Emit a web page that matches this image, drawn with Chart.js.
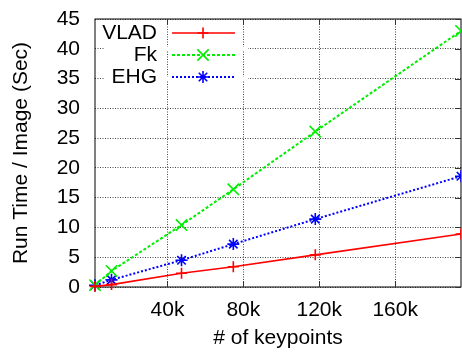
<!DOCTYPE html>
<html>
<head>
<meta charset="utf-8">
<script src="https://cdn.jsdelivr.net/npm/chart.js@4.4.0/dist/chart.umd.min.js"></script>
<style>
  html, body { margin: 0; padding: 0; background: #fff; }
  canvas { display: block; }
</style>
</head>
<body>
<canvas id="runtime" width="462" height="352"></canvas>
<script>
// ── Data ──────────────────────────────────────────────────────
const keypoints = [1800, 10500, 47400, 74700, 117900, 194700];
const vladTime  = [0.1, 0.4, 2.3, 3.4, 5.4, 8.9];
const fkTime    = [0.3, 2.7, 10.4, 16.4, 26.1, 43.0];
const ehgTime   = [0.3, 1.2, 4.5, 7.2, 11.4, 18.6];
const xTicks    = [40000, 80000, 120000, 160000];
const yTicks    = [0, 5, 10, 15, 20, 25, 30, 35, 40, 45];

const FONT = 'Liberation Sans, Arial, Helvetica, sans-serif';
const pts = ys => ys.map((y, i) => ({ x: keypoints[i], y }));

// no extra room for overflowing tick labels, the layout padding handles it
function noLabelPadding(s) {
  s.paddingTop = 0; s.paddingBottom = 0; s.paddingLeft = 0; s.paddingRight = 0;
}

// ── Plot frame + small inner tick marks (gnuplot style) ───────
const framePlugin = {
  id: 'frame',
  beforeDatasetsDraw(chart) {
    const { ctx, chartArea: a, scales } = chart;
    ctx.save();
    // horizontal grid lines stop where the key sits
    ctx.fillStyle = '#fff';
    yTicks.forEach(v => {
      const py = scales.y.getPixelForValue(v);
      if (py > a.top + 10 && py < a.top + 64) ctx.fillRect(a.left + 10, py - 2, 143, 4);
    });
    ctx.strokeStyle = '#000';
    ctx.lineWidth = 1;
    ctx.setLineDash([]);
    ctx.strokeRect(a.left, a.top, a.right - a.left, a.bottom - a.top);
    ctx.strokeStyle = '#333';
    ctx.beginPath();
    yTicks.forEach(v => {
      const py = Math.round(scales.y.getPixelForValue(v)) + 0.5;
      ctx.moveTo(a.right, py); ctx.lineTo(a.right - 6, py);
    });
    xTicks.forEach(v => {
      const px = Math.round(scales.x.getPixelForValue(v)) + 0.5;
      ctx.moveTo(px, a.top); ctx.lineTo(px, a.top + 6);
      ctx.moveTo(px, a.bottom); ctx.lineTo(px, a.bottom - 6);
    });
    ctx.stroke();
    ctx.restore();
  }
};

// ── Key: label right-aligned, then line sample with marker ───
const keyPlugin = {
  id: 'key',
  afterDraw(chart) {
    const { ctx, chartArea: a } = chart;
    ctx.save();
    ctx.font = '21px ' + FONT;
    ctx.textAlign = 'right';
    ctx.textBaseline = 'middle';
    chart.data.datasets.forEach((ds, i) => {
      const cy = a.top + 14 + i * 22;
      ctx.fillStyle = '#000';
      ctx.fillText(ds.label, a.left + 62, cy);
      ctx.strokeStyle = ds.borderColor;
      ctx.lineWidth = ds.borderWidth;
      ctx.setLineDash(ds.borderDash || []);
      ctx.beginPath();
      ctx.moveTo(a.left + 77, cy);
      ctx.lineTo(a.left + 140, cy);
      ctx.stroke();
      ctx.setLineDash([]);
      ctx.lineWidth = ds.pointBorderWidth;
      Chart.helpers.drawPoint(ctx, { pointStyle: ds.pointStyle, radius: ds.pointRadius, borderWidth: ds.pointBorderWidth, rotation: 0 }, a.left + 108, cy);
    });
    ctx.restore();
  }
};

new Chart(document.getElementById('runtime'), {
  type: 'line',
  data: {
    datasets: [
      {
        label: 'VLAD', data: pts(vladTime),
        borderColor: '#ff0000', backgroundColor: '#ff0000', borderWidth: 1.6,
        pointStyle: 'cross', pointRadius: 5.5, pointBorderWidth: 1.6
      },
      {
        label: 'Fk', data: pts(fkTime),
        borderColor: '#00ee00', backgroundColor: '#00ee00', borderWidth: 2, borderDash: [3, 2],
        pointStyle: 'crossRot', pointRadius: 8, pointBorderWidth: 1.6
      },
      {
        label: 'EHG', data: pts(ehgTime),
        borderColor: '#0000ff', backgroundColor: '#0000ff', borderWidth: 2, borderDash: [2, 2],
        pointStyle: 'star', pointRadius: 6, pointBorderWidth: 1.6
      }
    ]
  },
  options: {
    responsive: false,
    animation: false,
    layout: { autoPadding: false, padding: { top: 19, right: 1, left: 0, bottom: 0 } },
    plugins: { legend: { display: false }, tooltip: { enabled: false } },
    elements: { line: { tension: 0 } },
    datasets: { line: { clip: { left: false, top: false, right: 0, bottom: false } } },
    scales: {
      x: {
        type: 'linear',
        min: keypoints[0], max: keypoints[keypoints.length - 1],
        afterBuildTicks: s => { s.ticks = xTicks.map(v => ({ value: v })); },
        afterFit: s => { s.height = 65; noLabelPadding(s); },
        grid: { color: '#444', lineWidth: 1, drawTicks: false },
        border: { display: false, dash: [1, 1.5] },
        ticks: {
          color: '#000', padding: 11, maxRotation: 0,
          font: { family: FONT, size: 21 },
          callback: v => (v / 1000) + 'k'
        },
        title: {
          display: true, text: '# of keypoints', color: '#000',
          font: { family: FONT, size: 21 }, padding: { top: 0, bottom: 1 }
        }
      },
      y: {
        min: 0, max: 45,
        afterBuildTicks: s => { s.ticks = yTicks.map(v => ({ value: v })); },
        afterFit: s => { s.width = 95; noLabelPadding(s); },
        grid: { color: '#444', lineWidth: 1, drawTicks: false },
        border: { display: false, dash: [1, 1.5] },
        ticks: { color: '#000', padding: 15, font: { family: FONT, size: 21 } },
        title: {
          display: true, text: 'Run Time / Image (Sec)', color: '#000',
          font: { family: FONT, size: 21 }, padding: { top: 9, bottom: 0 }
        }
      }
    }
  },
  plugins: [framePlugin, keyPlugin]
});
</script>
</body>
</html>
